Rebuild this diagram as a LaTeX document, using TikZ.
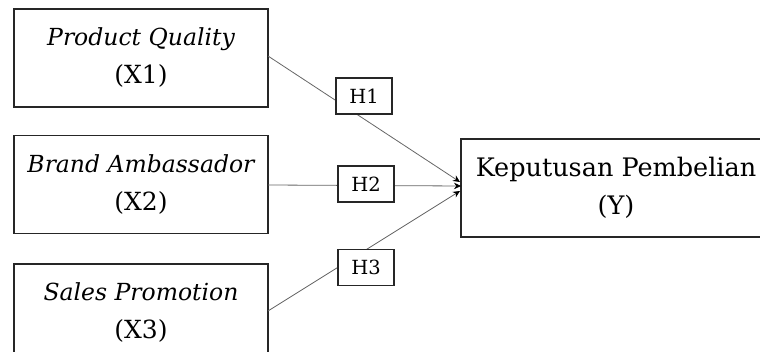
\documentclass[tikz,border=0pt]{standalone}
\usepackage{fontspec}
\setmainfont{DejaVu Serif}
\usetikzlibrary{arrows.meta}
\begin{document}
\begin{tikzpicture}[x=1pt,y=-1pt,
  varbox/.style={draw=black!85,line width=1.3pt,fill=white,inner sep=0pt,
    minimum width=254pt,minimum height=98pt,align=center,
    font=\fontsize{25}{38}\selectfont},
  hbox/.style={draw=black!85,line width=1.1pt,fill=white,inner sep=0pt,
    minimum width=56pt,minimum height=36pt,font=\fontsize{19.5}{20}\selectfont},
  conn/.style={draw=black!60,line width=0.8pt},
  arr/.style={conn,-{Stealth[length=7pt,width=6.5pt,black]}}]
\clip (0,0) rectangle (760,352);
\useasboundingbox (0,0) rectangle (760,352);
\newcommand\itl[1]{{\fontsize{23.5}{38}\selectfont\itshape #1}}
\node[varbox] (X1) at (141,58) {\itl{Product Quality}\\(X1)};
\node[varbox] (X2) at (141,184.5) {\itl{Brand Ambassador}\\(X2)};
\node[varbox] (X3) at (141,313) {\itl{Sales Promotion}\\(X3)};
\node[varbox,minimum width=310pt,font=\fontsize{25.5}{38}\selectfont] (Y) at (616,188) {Keputusan Pembelian\\(Y)};
\coordinate (s1) at (268,56);
\coordinate (s2) at (268,185);
\coordinate (s3) at (268,311);
\coordinate (t1) at (460,182);
\coordinate (t2) at (461,186);
\coordinate (t3) at (460,191);
\draw[arr] (s1) -- (t1);
\draw[arr] (s2) -- (t2);
\draw[arr] (s3) -- (t3);
\node[hbox] (H1) at (364,96) {H1};
\node[hbox] (H2) at (366,184) {H2};
\node[hbox] (H3) at (366,267.5) {H3};
\end{tikzpicture}
\end{document}
